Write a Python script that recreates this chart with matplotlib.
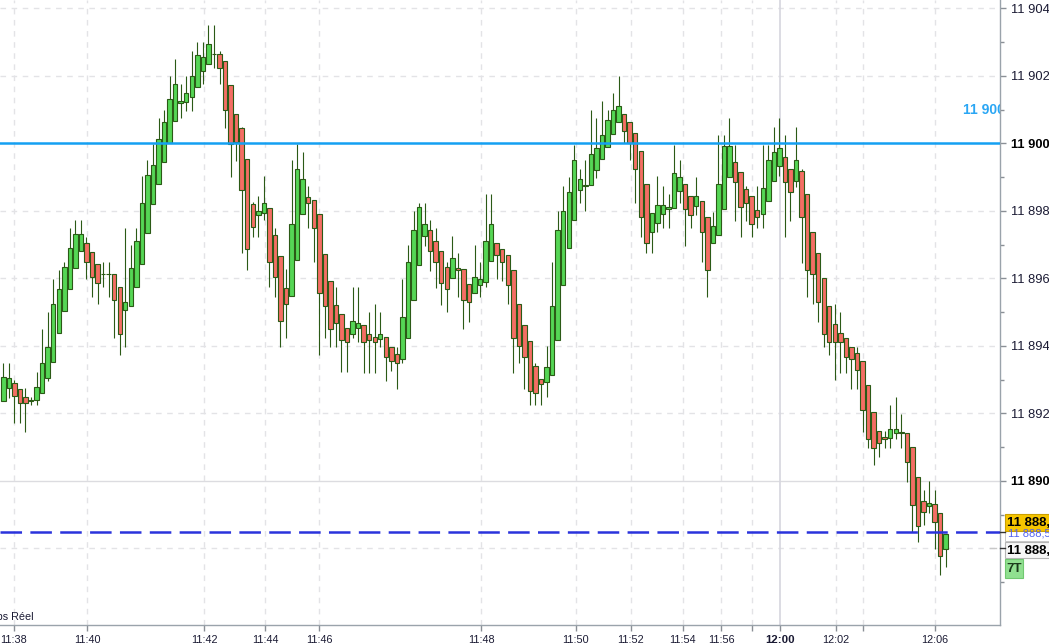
import numpy as np
import matplotlib.pyplot as plt
import matplotlib as mpl
from matplotlib.ticker import FixedLocator, FuncFormatter
from matplotlib.patches import Rectangle
from matplotlib.lines import Line2D

mpl.rcParams['font.family'] = ['Liberation Sans', 'DejaVu Sans']
mpl.rcParams['lines.scale_dashes'] = False

# OHLC per 7-tick candle
opens = [11892.37, 11892.74, 11892.89, 11892.71, 11892.50, 11892.37, 11892.40, 11892.60, 11893.04, 11893.51,
         11894.37, 11895.03, 11895.68, 11896.30, 11896.81, 11897.04, 11896.77, 11896.42, 11896.12, 11896.12,
         11896.12, 11895.74, 11895.07, 11895.18, 11895.74, 11896.42, 11897.34, 11898.20, 11898.79, 11899.44,
         11900.02, 11900.66, 11901.19, 11901.22, 11901.37, 11901.66, 11902.15, 11902.34, 11902.64, 11902.64,
         11902.43, 11901.72, 11900.86, 11900.45, 11899.53, 11898.20, 11897.87, 11897.93, 11898.08, 11897.28,
         11896.65, 11895.71, 11895.48, 11896.55, 11897.90, 11898.40, 11898.31, 11897.90, 11896.71, 11895.93,
         11895.21, 11894.94, 11894.54, 11894.34, 11894.52, 11894.61, 11894.34, 11894.26, 11894.20, 11894.26,
         11893.96, 11893.75, 11893.60, 11894.23, 11895.35, 11896.39, 11897.25, 11897.43, 11897.10, 11896.80,
         11896.33, 11896.00, 11896.30, 11896.27, 11895.83, 11895.56, 11895.80, 11895.88, 11896.51, 11897.04,
         11896.86, 11896.68, 11896.24, 11895.23, 11894.61, 11894.14, 11893.40, 11893.01, 11892.92, 11893.13,
         11894.17, 11895.80, 11896.89, 11897.72, 11898.61, 11898.73, 11898.76, 11899.20, 11899.53, 11899.88,
         11900.27, 11900.63, 11900.86, 11900.63, 11900.30, 11899.77, 11898.79, 11897.37, 11897.63, 11897.90,
         11898.06, 11898.08, 11898.58, 11898.79, 11898.43, 11898.14, 11898.28, 11897.81, 11897.04, 11897.28,
         11898.05, 11899.00, 11899.44, 11899.14, 11898.64, 11898.43, 11898.02, 11897.90, 11898.28, 11898.88,
         11899.32, 11899.59, 11899.23, 11898.88, 11899.17, 11898.49, 11897.37, 11896.74, 11896.00, 11895.18,
         11894.64, 11894.37, 11894.23, 11893.96, 11893.78, 11893.54, 11892.83, 11892.03, 11891.49, 11891.29,
         11891.26, 11891.41, 11891.46, 11891.43, 11891.00, 11890.13, 11889.39, 11889.25, 11889.31, 11889.04,
         11887.97]
highs = [11893.49, 11893.49, 11892.99, 11892.71, 11892.74, 11892.50, 11893.24, 11894.50, 11895.00, 11895.97,
         11896.25, 11896.50, 11897.48, 11897.73, 11897.73, 11897.24, 11896.77, 11896.42, 11896.48, 11896.48,
         11896.12, 11895.74, 11897.48, 11896.99, 11897.48, 11899.04, 11899.51, 11899.97, 11900.76, 11900.99,
         11902.00, 11902.49, 11901.75, 11902.00, 11902.74, 11903.01, 11903.01, 11903.51, 11903.51, 11902.74,
         11902.43, 11901.72, 11900.86, 11900.50, 11899.53, 11898.25, 11898.44, 11899.02, 11898.08, 11897.48,
         11896.65, 11896.27, 11899.51, 11899.97, 11899.75, 11898.74, 11898.31, 11897.90, 11896.71, 11895.93,
         11895.76, 11894.94, 11894.54, 11895.76, 11895.76, 11894.61, 11895.00, 11895.24, 11895.00, 11894.26,
         11893.96, 11893.98, 11895.97, 11896.98, 11897.99, 11898.24, 11898.24, 11897.72, 11897.48, 11896.80,
         11896.48, 11897.25, 11896.74, 11896.27, 11895.83, 11896.98, 11896.48, 11898.50, 11898.50, 11897.04,
         11896.86, 11896.68, 11896.24, 11895.23, 11894.61, 11894.14, 11893.49, 11893.01, 11893.99, 11896.48,
         11897.99, 11898.73, 11899.00, 11899.95, 11899.24, 11899.51, 11900.99, 11900.74, 11901.26, 11900.99,
         11901.48, 11902.00, 11900.86, 11900.63, 11900.30, 11899.77, 11898.79, 11897.93, 11899.02, 11898.74,
         11898.49, 11899.95, 11899.51, 11898.79, 11898.43, 11899.00, 11898.28, 11897.81, 11897.98, 11900.24,
         11900.24, 11900.74, 11899.95, 11899.14, 11898.74, 11898.43, 11898.74, 11899.95, 11899.95, 11900.48,
         11900.74, 11900.25, 11899.23, 11900.48, 11899.23, 11898.49, 11897.37, 11896.74, 11896.00, 11895.18,
         11895.24, 11895.00, 11894.23, 11893.96, 11893.98, 11893.54, 11892.83, 11892.03, 11891.49, 11891.49,
         11892.24, 11892.49, 11891.97, 11891.43, 11891.00, 11890.13, 11889.73, 11890.00, 11889.73, 11889.04,
         11888.42]
lows = [11892.37, 11892.45, 11891.73, 11891.73, 11891.46, 11892.25, 11892.25, 11892.60, 11892.97, 11893.51,
        11894.37, 11895.03, 11895.68, 11896.30, 11896.81, 11895.97, 11895.46, 11895.23, 11895.74, 11895.46,
        11894.23, 11893.72, 11893.98, 11895.18, 11895.74, 11896.42, 11897.34, 11898.20, 11898.79, 11899.44,
        11900.02, 11900.66, 11900.74, 11900.96, 11900.96, 11901.66, 11901.75, 11902.34, 11902.23, 11901.75,
        11900.47, 11899.00, 11899.48, 11896.74, 11896.25, 11897.24, 11897.24, 11897.73, 11895.74, 11895.46,
        11893.98, 11894.23, 11895.48, 11896.55, 11897.90, 11897.48, 11896.48, 11893.72, 11894.23, 11893.98,
        11893.98, 11893.22, 11893.22, 11894.23, 11894.11, 11893.21, 11893.21, 11893.21, 11893.98, 11892.97,
        11893.27, 11892.71, 11893.49, 11894.23, 11895.35, 11896.39, 11896.95, 11896.21, 11895.73, 11895.21,
        11895.00, 11896.00, 11895.46, 11894.49, 11894.72, 11895.56, 11895.46, 11895.74, 11896.51, 11895.97,
        11895.93, 11895.23, 11893.21, 11893.49, 11892.71, 11892.24, 11892.24, 11892.24, 11892.48, 11893.13,
        11894.17, 11895.80, 11896.89, 11897.72, 11898.23, 11898.00, 11898.76, 11898.99, 11899.53, 11899.88,
        11900.27, 11900.63, 11900.00, 11899.50, 11898.23, 11897.24, 11896.74, 11896.74, 11897.37, 11897.48,
        11897.48, 11898.08, 11898.23, 11896.97, 11897.48, 11897.87, 11896.48, 11895.46, 11897.04, 11897.28,
        11898.05, 11899.00, 11897.71, 11897.24, 11897.71, 11897.24, 11897.48, 11897.48, 11898.28, 11898.88,
        11899.02, 11897.24, 11897.71, 11898.72, 11896.45, 11895.46, 11895.23, 11894.70, 11893.98, 11893.73,
        11892.99, 11893.21, 11893.21, 11892.71, 11892.71, 11891.46, 11890.97, 11890.47, 11890.72, 11890.97,
        11890.97, 11891.23, 11890.97, 11889.98, 11888.50, 11888.20, 11888.69, 11889.04, 11887.98, 11887.21,
        11887.46]
closes = [11893.09, 11893.04, 11892.53, 11892.30, 11892.30, 11892.40, 11892.79, 11893.49, 11893.98, 11895.23,
          11895.68, 11896.35, 11896.91, 11897.31, 11897.31, 11896.48, 11896.03, 11895.85, 11896.12, 11896.12,
          11895.36, 11894.34, 11895.29, 11896.30, 11897.11, 11898.23, 11899.05, 11899.35, 11900.12, 11900.63,
          11901.31, 11901.75, 11901.26, 11901.48, 11901.99, 11902.61, 11902.55, 11902.94, 11902.64, 11902.23,
          11900.99, 11899.98, 11900.05, 11898.61, 11896.86, 11897.53, 11898.00, 11898.23, 11896.48, 11896.03,
          11894.74, 11895.23, 11897.60, 11899.23, 11898.94, 11898.23, 11897.48, 11895.56, 11895.18, 11894.49,
          11894.67, 11894.18, 11894.13, 11894.73, 11894.67, 11894.11, 11894.17, 11894.11, 11894.34, 11893.66,
          11893.54, 11893.49, 11894.85, 11896.48, 11897.43, 11898.11, 11897.60, 11896.80, 11896.48, 11895.85,
          11895.68, 11896.60, 11896.24, 11895.35, 11895.29, 11896.03, 11895.97, 11897.10, 11897.60, 11896.68,
          11896.48, 11895.80, 11894.23, 11893.99, 11893.66, 11892.66, 11892.60, 11892.86, 11893.37, 11895.17,
          11897.43, 11897.99, 11898.55, 11899.50, 11898.94, 11898.76, 11899.68, 11899.86, 11900.24, 11900.68,
          11900.98, 11901.10, 11900.36, 11900.00, 11899.23, 11897.81, 11897.04, 11897.93, 11898.17, 11898.17,
          11898.12, 11899.11, 11899.00, 11898.05, 11897.87, 11898.43, 11897.37, 11896.24, 11897.54, 11898.79,
          11899.91, 11899.91, 11898.85, 11898.11, 11898.23, 11897.60, 11897.81, 11898.67, 11899.50, 11899.74,
          11899.86, 11898.85, 11898.55, 11899.50, 11897.81, 11896.24, 11896.12, 11895.29, 11894.34, 11894.11,
          11894.11, 11894.11, 11893.66, 11893.60, 11893.28, 11892.09, 11891.23, 11890.97, 11891.11, 11891.23,
          11891.53, 11891.53, 11891.41, 11890.55, 11889.28, 11888.65, 11889.09, 11889.34, 11888.77, 11887.78,
          11888.42]

# time axis labels (tick chart, so positions are in candle units)
time_labels = ['11:38', '11:40', '11:42', '11:44', '11:46', '11:48', '11:50', '11:52',
               '11:54', '11:56', '', '12:00', '12:02', '', '12:06']
time_pos = [1.9, 15.1, 36.2, 47.2, 56.95, 86.2, 103.3, 113.2, 122.6, 129.5, 135.1, 140.1, 150.2, 155.1, 168.1]

level_line = 11900
order_line = 11888.5

W, H = 1049, 644
fig = plt.figure(figsize=(W / 100, H / 100), dpi=100, facecolor='white')
ax = fig.add_axes([0, 19 / H, 1000 / W, 625 / H])
ax.set_facecolor('white')

x = np.arange(len(opens))
o = np.array(opens); c = np.array(closes)
up = c >= o
edge = '#2b5a16'
col = np.where(up, '#55d655', '#f46e64')
bottoms = np.minimum(o, c)
heights = np.maximum(np.abs(c - o), 0.01)

ax.vlines(x, lows, highs, color=edge, lw=0.8, zorder=3)
ax.bar(x, heights, 0.8, bottom=bottoms, color=col, edgecolor=edge, linewidth=0.8, zorder=4)

ax.set_xlim(-0.6, 179.8)
ax.set_ylim(11885.73, 11904.25)

# grid
grid_c = '#e3e3e6'
for v in [11888, 11892, 11894, 11896, 11898, 11902, 11904]:
    ax.axhline(v, color=grid_c, lw=1, dashes=(4, 4), zorder=1)
ax.axhline(11890, color='#dcdce0', lw=1, zorder=1)
for p, lab in zip(time_pos, time_labels):
    if lab == '12:00':
        ax.axvline(p, color='#d6d6de', lw=1.2, zorder=1)
    else:
        ax.axvline(p, color=grid_c, lw=1, dashes=(4, 4), zorder=1)

# level lines
ax.axhline(level_line, color='#14a0f2', lw=1.8, zorder=5)
ax.axhline(order_line, color='#2a33dc', lw=1.8, dashes=(15.5, 6), zorder=5)
ax.text(963 / 1000, 11901.0, '11 900', transform=ax.get_yaxis_transform(), color='#2aa6f4',
        fontsize=10, fontweight='bold', ha='left', va='center', clip_on=True, zorder=6)

# axes styling
for s in ['top', 'left']:
    ax.spines[s].set_visible(False)
for s in ['right', 'bottom']:
    ax.spines[s].set_color('#9aa3ab')
    ax.spines[s].set_linewidth(1.0)

ax.yaxis.tick_right()
ax.yaxis.set_major_locator(FixedLocator([11890, 11892, 11894, 11896, 11898, 11900, 11902, 11904]))
ax.yaxis.set_minor_locator(FixedLocator([11887, 11889, 11891, 11893, 11895, 11897, 11899, 11901, 11903]))
ax.yaxis.set_major_formatter(FuncFormatter(lambda v, _: f'{int(v) // 1000} {int(v) % 1000:03d}'))
ax.tick_params(axis='y', which='major', length=4, width=1, color='#8a8f96', pad=4,
               labelsize=9.3, labelcolor='#1a1a33')
ax.tick_params(axis='y', which='minor', length=3, width=1, color='#8a8f96')
for t in ax.get_yticklabels():
    if t.get_text() in ('11 900', '11 890'):
        t.set_fontweight('bold')
        t.set_color('black')

ax.set_xticks(time_pos)
ax.set_xticklabels(time_labels)
ax.tick_params(axis='x', length=4, width=1, color='#8a8f96', pad=3, labelsize=7.8, labelcolor='#1a1a33')
for t in ax.get_xticklabels():
    if t.get_text() == '12:00':
        t.set_fontweight('bold')
        t.set_fontsize(8.2)

ax.text(34 / 1000, 8 / 625, 'Temps Réel', transform=ax.transAxes, fontsize=7.8, color='#1a1a33',
        ha='right', va='center', clip_on=True)


# price flags on the right
def fx(px):
    return px / W


def fy(py):
    return 1 - py / H


fig.patches.append(Rectangle((fx(1005), fy(541)), fx(50), 10 / H, transform=fig.transFigure,
                             facecolor='white', edgecolor='#c0c0c0', lw=0.6))
fig.text(fx(1008), fy(534), '11 888,5', fontsize=8, color='#5060f0', va='center', ha='left')
fig.patches.append(Rectangle((fx(1005), fy(531)), fx(50), 17 / H, transform=fig.transFigure,
                             facecolor='#f6c500', edgecolor='#caa000', lw=0.8))
fig.text(fx(1007), fy(522.5), '11 888,', fontsize=9.5, fontweight='bold', color='black',
         va='center', ha='left')
fig.patches.append(Rectangle((fx(1005), fy(558)), fx(50), 16 / H, transform=fig.transFigure,
                             facecolor='#f7f7f7', edgecolor='#b5b5b5', lw=0.8))
fig.text(fx(1007), fy(550.5), '11 888,', fontsize=9.5, fontweight='bold', color='black',
         va='center', ha='left')
fig.patches.append(Rectangle((fx(1005), fy(578)), fx(18), 19 / H, transform=fig.transFigure,
                             facecolor='#90e090', edgecolor='#70c870', lw=0.8))
fig.text(fx(1014), fy(568.5), '7T', fontsize=9.5, fontweight='bold', color='#1a3a1a',
         va='center', ha='center')
for py in (532, 548):
    fig.lines.append(Line2D([fx(1000), fx(1005)], [fy(py), fy(py)], transform=fig.transFigure,
                            color='#333333', lw=1))
fig.lines.append(Line2D([fx(990), fx(996)], [fy(548), fy(548)], transform=fig.transFigure,
                        color='#c8c8c8', lw=1))

fig.savefig('out.png', dpi=100, facecolor='white')
